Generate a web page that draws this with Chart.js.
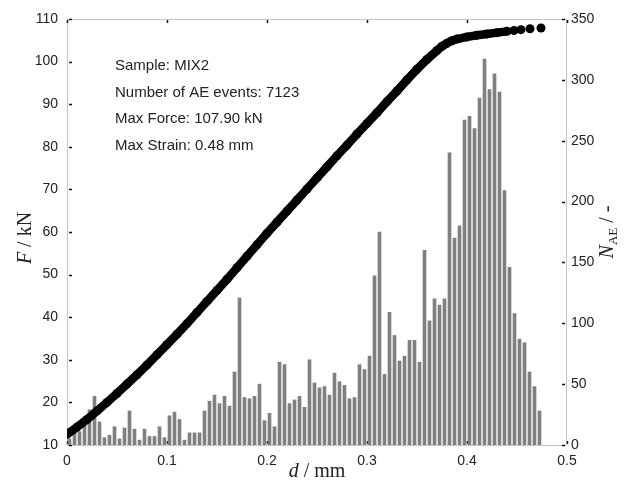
<!DOCTYPE html>
<html>
<head>
<meta charset="utf-8">
<script src="https://cdn.jsdelivr.net/npm/chart.js@4.4.1/dist/chart.umd.min.js"></script>
<style>
    html, body { margin: 0; padding: 0; background: #fff; }
    #wrap { width: 624px; height: 491px; }
</style>
</head>
<body>
<div id="wrap"><canvas id="chart"></canvas></div>
<script>
// AE histogram: bin centres (mm) and number of events per bin
const binCentres = [
    0.0025, 0.0075, 0.0125, 0.0175, 0.0225, 0.0275, 0.0325, 0.0375, 0.0425, 0.0475,
    0.0525, 0.0575, 0.0625, 0.0675, 0.0725, 0.0775, 0.0825, 0.0875, 0.0925, 0.0975,
    0.1025, 0.1075, 0.1125, 0.1175, 0.1225, 0.1275, 0.1325, 0.1375, 0.1425, 0.1475,
    0.1525, 0.1575, 0.1625, 0.1675, 0.1725, 0.1775, 0.1825, 0.1875, 0.1925, 0.1975,
    0.2025, 0.2075, 0.2125, 0.2175, 0.2225, 0.2275, 0.2325, 0.2375, 0.2425, 0.2475,
    0.2525, 0.2575, 0.2625, 0.2675, 0.2725, 0.2775, 0.2825, 0.2875, 0.2925, 0.2975,
    0.3025, 0.3075, 0.3125, 0.3175, 0.3225, 0.3275, 0.3325, 0.3375, 0.3425, 0.3475,
    0.3525, 0.3575, 0.3625, 0.3675, 0.3725, 0.3775, 0.3825, 0.3875, 0.3925, 0.3975,
    0.4025, 0.4075, 0.4125, 0.4175, 0.4225, 0.4275, 0.4325, 0.4375, 0.4425, 0.4475,
    0.4525, 0.4575, 0.4625, 0.4675, 0.4725
];
const aeCounts = [
    5, 10, 11, 18, 29, 40, 19, 6, 8, 15,
    5, 14, 28, 13, 4, 13, 7, 7, 15, 6,
    24, 27, 21, 4, 10, 10, 10, 28, 36, 41,
    34, 40, 32, 60, 121, 39, 38, 40, 50, 20,
    26, 15, 68, 66, 34, 37, 40, 31, 70, 51,
    47, 48, 41, 59, 52, 49, 38, 39, 66, 62,
    73, 139, 175, 58, 109, 90, 69, 73, 86, 86,
    68, 160, 102, 120, 115, 120, 240, 170, 180, 267,
    270, 260, 285, 317, 292, 305, 290, 209, 146, 108,
    87, 84, 60, 48, 28
];

// force - displacement curve
const dispValues = [
    0, 0.01, 0.02, 0.03, 0.04, 0.05, 0.06, 0.07, 0.08, 0.09,
    0.10, 0.11, 0.12, 0.13, 0.14, 0.15, 0.16, 0.17, 0.18, 0.19,
    0.20, 0.21, 0.22, 0.23, 0.24, 0.25, 0.26, 0.27, 0.28, 0.29,
    0.30, 0.31, 0.32, 0.33, 0.34, 0.35, 0.36, 0.37, 0.375, 0.38,
    0.385, 0.39, 0.40, 0.41, 0.42, 0.43, 0.44, 0.447, 0.454, 0.463, 0.474
];
const forceValues = [
    12.5, 14.2, 16.0, 18.0, 20.0, 22.1, 24.3, 26.5, 28.8, 31.2,
    33.6, 36.0, 38.5, 41.1, 43.7, 46.3, 48.9, 51.6, 54.3, 57.0,
    59.7, 62.3, 64.9, 67.5, 70.1, 72.7, 75.3, 77.9, 80.4, 83.0,
    85.5, 88.0, 90.6, 93.1, 95.7, 98.2, 100.5, 102.6, 103.6, 104.3,
    104.9, 105.3, 105.8, 106.2, 106.5, 106.8, 107.1, 107.3, 107.5, 107.7, 107.9
];

const infoLines = [
    'Sample: MIX2',
    'Number of AE events: 7123',
    'Max Force: 107.90 kN',
    'Max Strain: 0.48 mm'
];

const tickFont = { family: 'Liberation Sans', size: 14 };
const textColor = '#222';
const serif = 'Liberation Serif';

// gray frame + short inward black ticks
const framePlugin = {
    id: 'frame',
    beforeDatasetsDraw(chart) {
        const { ctx, chartArea: a, scales } = chart;
        ctx.save();
        ctx.strokeStyle = '#c4c4c4';
        ctx.lineWidth = 1;
        ctx.strokeRect(a.left + 0.5, a.top + 0.5, a.right - a.left - 1, a.bottom - a.top);

        ctx.strokeStyle = '#111';
        ctx.lineWidth = 1.5;
        ctx.beginPath();
        scales.x.ticks.forEach(t => {
            const px = Math.round(scales.x.getPixelForValue(t.value)) + 0.5;
            ctx.moveTo(px, a.bottom - 1); ctx.lineTo(px, a.bottom - 4);
            ctx.moveTo(px, a.top + 1); ctx.lineTo(px, a.top + 4);
        });
        scales.y.ticks.forEach(t => {
            const py = Math.round(scales.y.getPixelForValue(t.value)) + 0.5;
            ctx.moveTo(a.left + 2, py); ctx.lineTo(a.left + 5, py);
        });
        scales.y2.ticks.forEach(t => {
            const py = Math.round(scales.y2.getPixelForValue(t.value)) + 0.5;
            ctx.moveTo(a.right - 2, py); ctx.lineTo(a.right - 5, py);
        });
        ctx.stroke();
        ctx.restore();
    }
};

// axis titles with italic symbols, and the info block
function drawParts(ctx, parts, cx, cy) {
    let total = 0;
    parts.forEach(p => { ctx.font = p.font; p.w = ctx.measureText(p.text).width; total += p.w; });
    let x = cx - total / 2;
    parts.forEach(p => {
        ctx.font = p.font;
        ctx.fillText(p.text, x, cy + (p.dy || 0));
        x += p.w;
    });
}

const textPlugin = {
    id: 'texts',
    afterDraw(chart) {
        const { ctx, chartArea: a } = chart;
        ctx.save();
        ctx.fillStyle = textColor;
        ctx.textBaseline = 'alphabetic';

        drawParts(ctx, [
            { text: 'd', font: `italic 20px "${serif}"` },
            { text: ' / mm', font: `20px "${serif}"` }
        ], (a.left + a.right) / 2, 477);

        ctx.save();
        ctx.translate(31, 238);
        ctx.rotate(-Math.PI / 2);
        drawParts(ctx, [
            { text: 'F', font: `italic 20px "${serif}"` },
            { text: ' / kN', font: `20px "${serif}"` }
        ], 0, 0);
        ctx.restore();

        ctx.save();
        ctx.translate(613, 232);
        ctx.rotate(-Math.PI / 2);
        drawParts(ctx, [
            { text: 'N', font: `italic 20px "${serif}"` },
            { text: 'AE', font: `13px "${serif}"`, dy: 4 },
            { text: ' / -', font: `20px "${serif}"` }
        ], 0, 0);
        ctx.restore();

        ctx.font = '15px "Liberation Sans"';
        ctx.textBaseline = 'middle';
        infoLines.forEach((line, i) => {
            ctx.fillText(line, 115, 66 + i * 26.5);
        });
        ctx.restore();
    }
};

const ctx = document.getElementById('chart').getContext('2d');
new Chart(ctx, {
    type: 'bar',
    data: {
        datasets: [
            {
                type: 'line',
                label: 'F',
                data: dispValues.map((d, i) => ({ x: d, y: forceValues[i] })),
                yAxisID: 'y',
                borderColor: '#000',
                backgroundColor: '#000',
                borderWidth: 8.5,
                pointRadius: 4.5,
                pointHoverRadius: 4.5,
                pointBorderWidth: 0,
                tension: 0,
                order: 0,
                segment: {
                    borderColor: c => c.p0.parsed.x >= 0.44 ? 'rgba(0,0,0,0)' : '#000'
                }
            },
            {
                type: 'bar',
                label: 'N_AE',
                data: binCentres.map((d, i) => ({ x: d, y: aeCounts[i] })),
                yAxisID: 'y2',
                backgroundColor: '#808080',
                barThickness: 3,
                order: 1
            }
        ]
    },
    options: {
        responsive: true,
        maintainAspectRatio: false,
        animation: false,
        layout: { padding: { top: 19, left: 0, right: 0, bottom: 0 } },
        plugins: { legend: { display: false }, tooltip: { enabled: false } },
        scales: {
            x: {
                type: 'linear', min: 0, max: 0.5, offset: false,
                grid: { display: false, drawTicks: false },
                border: { display: false },
                ticks: { stepSize: 0.1, padding: 8, color: textColor, font: tickFont, maxRotation: 0, autoSkip: false },
                afterFit: s => { s.height = 46; }
            },
            y: {
                position: 'left', min: 10, max: 110,
                grid: { display: false, drawTicks: false },
                border: { display: false },
                ticks: { stepSize: 10, padding: 9, color: textColor, font: tickFont },
                afterFit: s => { s.width = 67; }
            },
            y2: {
                position: 'right', min: 0, max: 350,
                grid: { display: false, drawTicks: false },
                border: { display: false },
                ticks: { stepSize: 50, padding: 4, color: textColor, font: tickFont },
                afterFit: s => { s.width = 57; }
            }
        }
    },
    plugins: [framePlugin, textPlugin]
});
</script>
</body>
</html>
